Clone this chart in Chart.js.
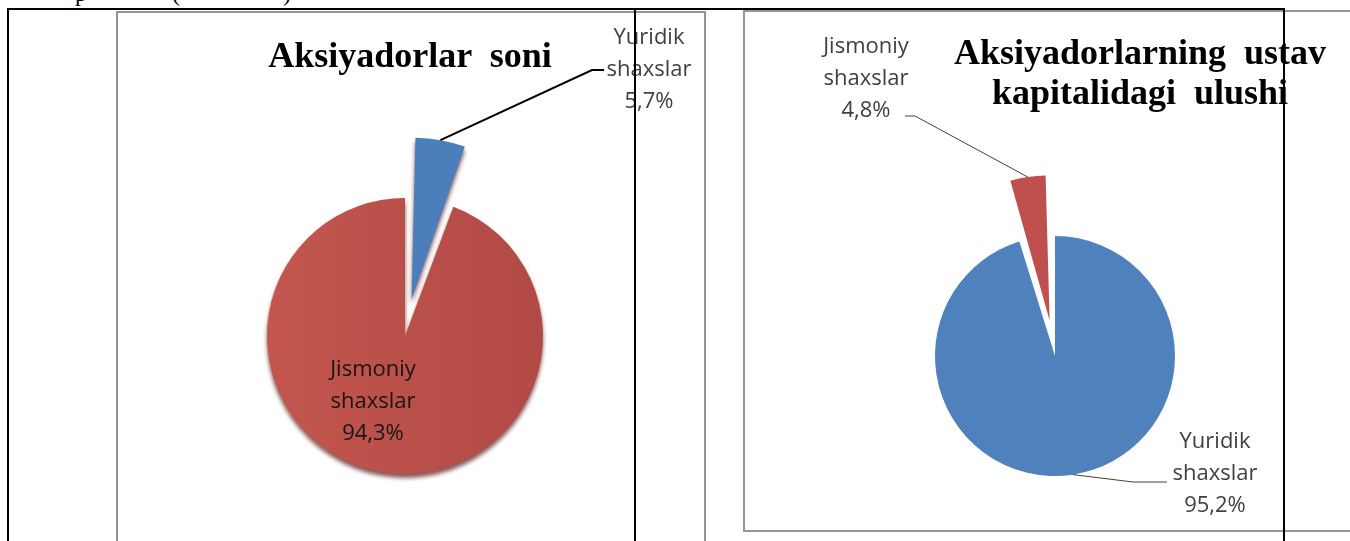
<!DOCTYPE html>
<html>
<head>
<meta charset="utf-8">
<script src="https://cdn.jsdelivr.net/npm/chart.js@4.4.0/dist/chart.umd.min.js"></script>
<style>
    html, body { margin: 0; padding: 0; background: #fff; }
    body { width: 1350px; height: 541px; position: relative; overflow: hidden; }
    canvas.pie { position: absolute; left: 0; top: 0; }
    .title {
        position: absolute;
        font-family: 'Liberation Serif', 'Times New Roman', serif;
        font-weight: bold;
        font-size: 36px;
        line-height: 40px;
        color: #000;
        white-space: pre;
        text-align: center;
    }
    .cut {
        position: absolute;
        top: -19px;
        font-family: 'Liberation Serif', 'Times New Roman', serif;
        font-size: 24px;
        line-height: 24px;
    }
    .rule { position: absolute; z-index: 5; }
    .rule.black { background: #000; }
    .rule.gray { background: #959595; }
</style>
</head>
<body>
    <!-- clipped line of document text above the table -->
    <div class="cut" style="left:75px">p</div>
    <div class="cut" style="left:172px">(</div>
    <div class="cut" style="left:283px">)</div>

    <canvas id="countChart" class="pie" width="1350" height="541"></canvas>
    <canvas id="capitalChart" class="pie" width="1350" height="541"></canvas>

    <div class="title" id="countTitle" style="left:200px; width:420px; top:35px;"></div>
    <div class="title" id="capitalTitle" style="left:940px; width:400px; top:32px;"></div>

    <!-- chart boxes -->
    <div class="rule gray" style="left:116px; top:11px; width:590px; height:2px;"></div>
    <div class="rule gray" style="left:116px; top:11px; width:2px; height:530px;"></div>
    <div class="rule gray" style="left:704px; top:11px; width:2px; height:530px;"></div>
    <div class="rule gray" style="left:743px; top:10px; width:607px; height:2px;"></div>
    <div class="rule gray" style="left:743px; top:10px; width:2px; height:521px;"></div>
    <div class="rule gray" style="left:743px; top:530px; width:607px; height:2px;"></div>

    <!-- table lines -->
    <div class="rule black" style="left:7px; top:8px; width:1278px; height:2px;"></div>
    <div class="rule black" style="left:7px; top:8px; width:2px; height:533px;"></div>
    <div class="rule black" style="left:634px; top:8px; width:2px; height:533px;"></div>
    <div class="rule black" style="left:1283px; top:8px; width:2px; height:533px;"></div>

<script>
// Data
const categories = ['Yuridik shaxslar', 'Jismoniy shaxslar'];
const shareholderCount = [5.7, 94.3];   // Aksiyadorlar soni, %
const capitalShare = [95.2, 4.8];       // ustav kapitalidagi ulushi, %
const chartTitles = ['Aksiyadorlar  soni', 'Aksiyadorlarning  ustav\nkapitalidagi  ulushi'];

const BLUE = '#4F81BD';
const RED = '#C0504D';

document.getElementById('countTitle').textContent = chartTitles[0];
document.getElementById('capitalTitle').textContent = chartTitles[1];

// Chart.js v4 moves an arc by offset/4, plus a bit more for thin slices
function offsetFor(distance, share) {
    const circ = share / 100 * 2 * Math.PI;
    const fix = 1 - Math.sin(Math.min(Math.PI, circ));
    return distance * 4 / (1 + fix);
}

function arcShift(arc) {
    const offset = (arc.options.offset || 0) / 4;
    const circ = arc.endAngle - arc.startAngle;
    const fix = 1 - Math.sin(Math.min(Math.PI, circ));
    return offset * (1 + fix);
}

function formatShare(v) {
    return v.toFixed(1).replace('.', ',') + '%';
}

// Labels with leader lines
const sliceLabels = {
    id: 'sliceLabels',
    afterDatasetsDraw(chart, args, opts) {
        const ctx = chart.ctx;
        const meta = chart.getDatasetMeta(0);
        const values = chart.data.datasets[0].data;
        chart.data.labels.forEach((label, i) => {
            const place = opts.places[i];
            const arc = meta.data[i];
            const mid = (arc.startAngle + arc.endAngle) / 2;
            const r = arcShift(arc) + arc.outerRadius;
            const ax = arc.x + Math.cos(mid) * r;
            const ay = arc.y + Math.sin(mid) * r;

            ctx.save();
            if (place.elbow) {
                ctx.strokeStyle = opts.lineColor;
                ctx.lineWidth = opts.lineWidth;
                ctx.beginPath();
                ctx.moveTo(ax, ay);
                ctx.lineTo(place.elbow[0], place.elbow[1]);
                ctx.lineTo(place.end, place.elbow[1]);
                ctx.stroke();
            }
            const lines = [...label.split(' '), formatShare(values[i])];
            ctx.font = opts.font;
            ctx.fillStyle = place.color || opts.color;
            ctx.textAlign = 'center';
            ctx.textBaseline = 'middle';
            lines.forEach((t, k) => ctx.fillText(t, place.x, place.y + (k - 1) * opts.lineHeight));
            ctx.restore();
        });
    }
};

// Soft shadow under the first pie
const pieShadow = {
    id: 'pieShadow',
    beforeDatasetsDraw(chart, args, opts) {
        if (!opts.enabled) return;
        const c = chart.ctx;
        c.save();
        c.shadowColor = opts.color;
        c.shadowBlur = opts.blur;
        c.shadowOffsetY = opts.offsetY;
    },
    afterDatasetsDraw(chart, args, opts) {
        if (opts.enabled) chart.ctx.restore();
    }
};

// Aksiyadorlar soni
const countCtx = document.getElementById('countChart').getContext('2d');
const redShade = countCtx.createLinearGradient(267, 0, 543, 0);
redShade.addColorStop(0, '#C3574F');
redShade.addColorStop(1, '#B14945');

new Chart(countCtx, {
    type: 'pie',
    data: {
        labels: categories,
        datasets: [{
            data: shareholderCount,
            backgroundColor: ['#4A7FBC', redShade],
            borderWidth: 0,
            offset: [offsetFor(61, shareholderCount[0]), 0],
            clip: false
        }]
    },
    options: {
        responsive: false,
        animation: false,
        radius: 138,
        layout: { padding: { left: 0, right: 540, top: 131, bottom: 0 } },
        plugins: {
            legend: { display: false },
            tooltip: { enabled: false },
            pieShadow: { enabled: true, color: 'rgba(95, 30, 28, 0.75)', blur: 4, offsetY: 4 },
            sliceLabels: {
                font: '22px "Open Sans", sans-serif',
                lineHeight: 32,
                color: '#404040',
                lineColor: '#000',
                lineWidth: 2,
                places: [
                    { x: 649, y: 70, elbow: [592, 70], end: 604 },
                    { x: 373, y: 402, color: '#161616' }
                ]
            }
        }
    },
    plugins: [pieShadow, sliceLabels]
});

// Aksiyadorlarning ustav kapitalidagi ulushi
const capitalCtx = document.getElementById('capitalChart').getContext('2d');
new Chart(capitalCtx, {
    type: 'pie',
    data: {
        labels: categories,
        datasets: [{
            data: capitalShare,
            backgroundColor: [BLUE, RED],
            borderWidth: 0,
            offset: [0, offsetFor(61, capitalShare[1])],
            clip: false
        }]
    },
    options: {
        responsive: false,
        animation: false,
        radius: 120,
        layout: { padding: { left: 760, right: 0, top: 171, bottom: 0 } },
        plugins: {
            legend: { display: false },
            tooltip: { enabled: false },
            pieShadow: { enabled: false },
            sliceLabels: {
                font: '22px "Open Sans", sans-serif',
                lineHeight: 32,
                color: '#404040',
                lineColor: '#404040',
                lineWidth: 1,
                places: [
                    { x: 1215, y: 474, elbow: [1133, 482], end: 1167 },
                    { x: 866, y: 79, elbow: [915, 116], end: 905 }
                ]
            }
        }
    },
    plugins: [pieShadow, sliceLabels]
});
</script>
</body>
</html>
